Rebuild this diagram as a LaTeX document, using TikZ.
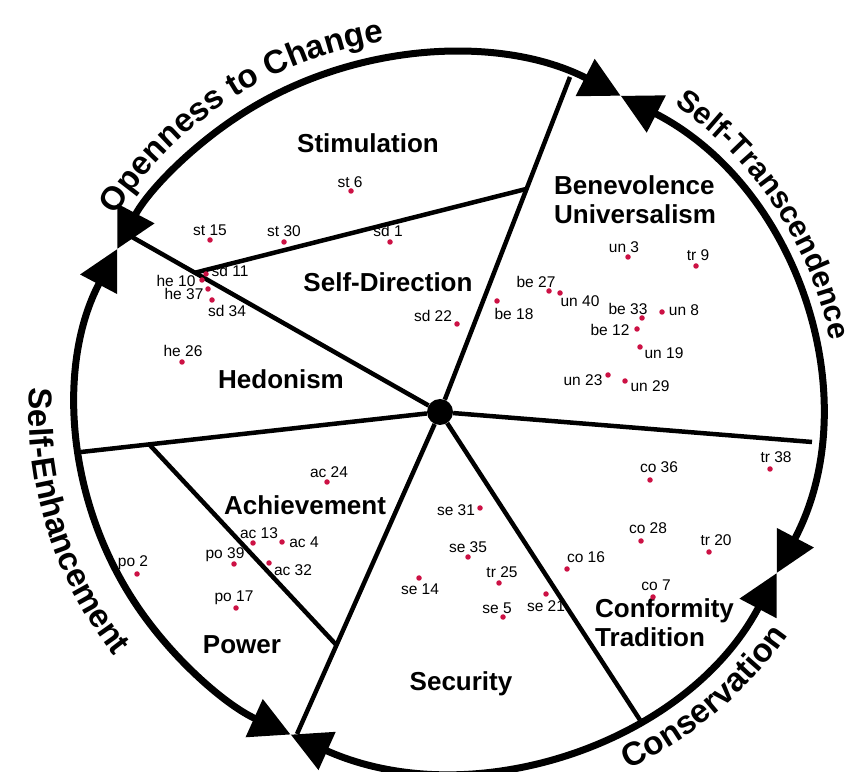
\documentclass[tikz,border=0pt]{standalone}
\usepackage{fontspec}
\setmainfont{Liberation Sans}
\usetikzlibrary{arrows.meta, decorations.text, calc, positioning}
\definecolor{itemRed}{HTML}{CC1144}
\tikzset{
    hubDot/.style={circle, fill=black, inner sep=0pt, minimum size=26pt},
    itemDot/.style={circle, fill=itemRed, inner sep=0pt, minimum size=5.5pt},
    itemText/.style={font=\fontsize{15.5}{15.5}\selectfont, inner sep=0pt},
    sectorText/.style={font=\bfseries\fontsize{26}{29}\selectfont, inner sep=0pt, align=left},
    spoke/.style={line width=4.5pt},
    ringArrow/.style={{Triangle[length=40pt, width=40pt]}-{Triangle[length=40pt, width=40pt]}, line width=7pt},
    ringText/.style 2 args={decorate, decoration={text along path, text align=center, text={|\bfseries\fontsize{#1}{#1}\selectfont|#2}}},
}
\newcommand{\drawItem}[4]{
    % dot, then its code next to it
    \node[itemDot] (#1) at (#2) {};
    \node[itemText] (#1t) at ($(#1)+(#3)$) {#4};
}

\begin{document}
\begin{tikzpicture}[x=1pt, y=1pt]
    \useasboundingbox (0,0) rectangle (864,771);

    \coordinate (ctr) at (447,360);
    \coordinate (ulEnd) at (125,538);
    \coordinate (topEnd) at (570,694);
    \coordinate (rightEnd) at (812,329);
    \coordinate (lrEnd) at (640,51);
    \coordinate (llEnd) at (297,37);
    \coordinate (leftEnd) at (81,319);
    \node[hubDot] (hub) at (440,359) {};

    % spokes
    \draw[spoke] (hub) -- (ulEnd);
    \draw[spoke] (hub) -- (topEnd);
    \draw[spoke] (hub) -- (rightEnd);
    \draw[spoke] (hub) -- (lrEnd);
    \draw[spoke] (hub) -- (llEnd);
    \draw[spoke] (hub) -- (leftEnd);
    \coordinate (stimA) at ($(hub)!0.778!(ulEnd)$);
    \coordinate (stimB) at ($(hub)!0.666!(topEnd)$);
    \coordinate (achA) at ($(hub)!0.81!(leftEnd)$);
    \coordinate (achB) at ($(hub)!0.724!(llEnd)$);
    \draw[spoke] (stimA) -- (stimB);
    \draw[spoke] (achA) -- (achB);

    % ring
    \draw[ringArrow] ($(ctr)+(62:370 and 357)$) arc[start angle=62, end angle=153, x radius=370, y radius=357];
    \draw[ringArrow] ($(ctr)+(153:370 and 357)$) arc[start angle=153, end angle=245, x radius=370, y radius=357];
    \draw[ringArrow] ($(ctr)+(245:370 and 357)$) arc[start angle=245, end angle=333, x radius=370, y radius=357];
    \draw[ringArrow] ($(ctr)+(333:370 and 357)$) arc[start angle=333, end angle=422, x radius=370, y radius=357];

    \path[ringText={33}{Openness to Change}] ($(ctr)+(152:388 and 375)$) arc[start angle=152, end angle=96, x radius=388, y radius=375];
    \path[ringText={30.5}{Self-Transcendence}] ($(ctr)+(57:390 and 377)$) arc[start angle=57, end angle=8, x radius=390, y radius=377];
    \path[ringText={33}{Self-Enhancement}] ($(ctr)+(173:418 and 405)$) arc[start angle=173, end angle=221, x radius=418, y radius=405];
    \path[ringText={33}{Conservation}] ($(ctr)+(294:412 and 399)$) arc[start angle=294, end angle=328, x radius=412, y radius=399];

    % sectors
    \node[sectorText] (stim) at (368,628) {Stimulation};
    \node[sectorText] (sdir) at (388,489) {Self-Direction};
    \node[sectorText, anchor=west] (benUni) at (554,571) {Benevolence\\Universalism};
    \node[sectorText] (hedo) at (281,392) {Hedonism};
    \node[sectorText] (achv) at (305,266) {Achievement};
    \node[sectorText] (powr) at (242,126) {Power};
    \node[sectorText] (secu) at (461,87) {Security};
    \node[sectorText, anchor=west] (confTrad) at (595,148) {Conformity\\Tradition};

    % items
    \drawItem{st6}{351,580}{-1,9}{st 6}
    \drawItem{st15}{210,531}{0,10}{st 15}
    \drawItem{st30}{284,529}{0,11}{st 30}
    \drawItem{sd1}{390,529}{-2,11}{sd 1}
    \drawItem{sd11}{206,497}{24,3}{sd 11}
    \drawItem{he10}{202,491}{-26,-1}{he 10}
    \drawItem{he37}{208,482}{-24,-5}{he 37}
    \drawItem{sd34}{212,471}{15,-11}{sd 34}
    \drawItem{sd22}{457,447}{-24,8}{sd 22}
    \drawItem{he26}{182,409}{1,11}{he 26}
    \drawItem{un3}{628,514}{-4,10}{un 3}
    \drawItem{tr9}{696,505}{2,11}{tr 9}
    \drawItem{be27}{549,480}{-13,9}{be 27}
    \drawItem{un40}{560,478}{20,-8}{un 40}
    \drawItem{be18}{497,470}{17,-13}{be 18}
    \drawItem{be33}{642,453}{-14,9}{be 33}
    \drawItem{un8}{662,459}{22,2}{un 8}
    \drawItem{be12}{637,442}{-27,-1}{be 12}
    \drawItem{un19}{640,424}{24,-6}{un 19}
    \drawItem{un23}{608,396}{-25,-5}{un 23}
    \drawItem{un29}{625,390}{25,-5}{un 29}
    \drawItem{tr38}{770,302}{6,12}{tr 38}
    \drawItem{co36}{650,291}{9,13}{co 36}
    \drawItem{co28}{641,230}{7,13}{co 28}
    \drawItem{tr20}{709,219}{7,12}{tr 20}
    \drawItem{co16}{567,202}{19,12}{co 16}
    \drawItem{co7}{653,174}{3,12}{co 7}
    \drawItem{se31}{480,263}{-24,-2}{se 31}
    \drawItem{se35}{468,214}{0,10}{se 35}
    \drawItem{tr25}{499,188}{3,11}{tr 25}
    \drawItem{se14}{419,193}{1,-11}{se 14}
    \drawItem{se5}{503,154}{-6,9}{se 5}
    \drawItem{se21}{546,177}{0,-12}{se 21}
    \drawItem{ac24}{327,289}{2,10}{ac 24}
    \drawItem{ac13}{253,228}{6,10}{ac 13}
    \drawItem{ac4}{282,229}{22,0}{ac 4}
    \drawItem{ac32}{269,208}{24,-7}{ac 32}
    \drawItem{po39}{234,207}{-9,9}{po 39}
    \drawItem{po17}{236,163}{-2,10}{po 17}
    \drawItem{po2}{137,197}{-4,11}{po 2}
\end{tikzpicture}
\end{document}
